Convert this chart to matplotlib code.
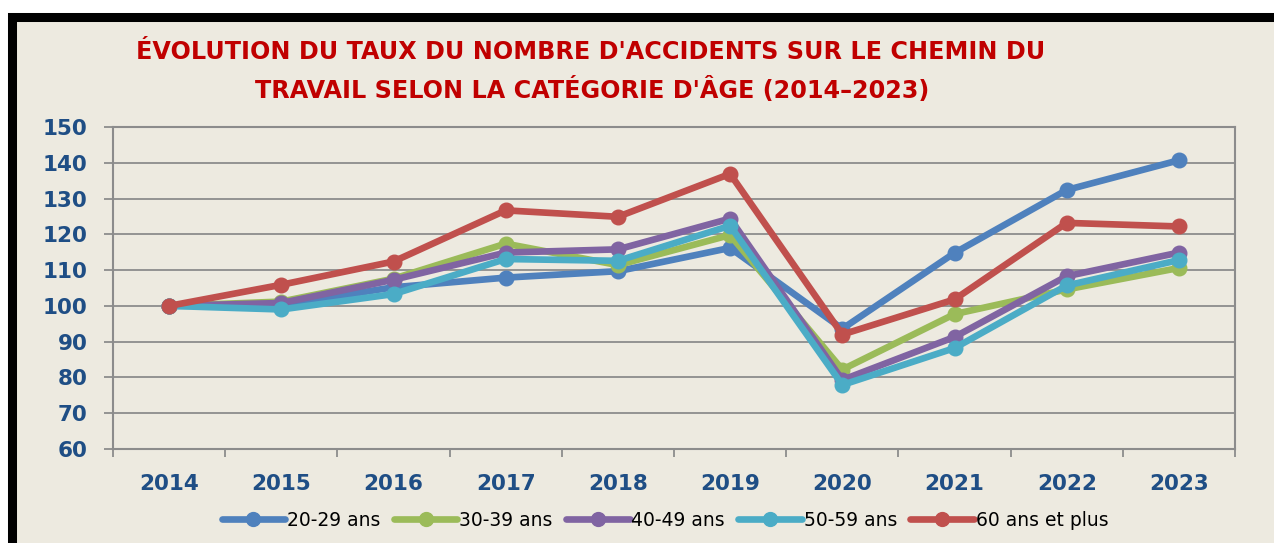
import numpy as np
import matplotlib
matplotlib.use('Agg')
import matplotlib.pyplot as plt
from matplotlib.patches import Rectangle

years = ['2014', '2015', '2016', '2017', '2018', '2019', '2020', '2021', '2022', '2023']
age_20_29 = [100, 100.2, 105.2, 107.9, 109.7, 116.2, 93.6, 114.8, 132.4, 140.7]
age_30_39 = [100, 101.2, 107.6, 117.4, 111.4, 119.8, 82.2, 97.7, 104.6, 110.6]
age_40_49 = [100, 100.8, 107.3, 114.9, 115.8, 124.4, 79.3, 91.3, 108.3, 114.9]
age_50_59 = [100, 99.0, 103.3, 113.1, 112.6, 122.4, 77.9, 88.2, 105.7, 112.8]
age_60_plus = [100, 105.9, 112.4, 126.7, 124.9, 136.9, 92.0, 101.8, 123.2, 122.2]

series = [
    ('20-29 ans', age_20_29, '#4F81BD'),
    ('30-39 ans', age_30_39, '#9BBB59'),
    ('40-49 ans', age_40_49, '#8064A2'),
    ('50-59 ans', age_50_59, '#4BACC6'),
    ('60 ans et plus', age_60_plus, '#C0504D'),
]

bg = '#EDEAE0'
tick_blue = '#1F4E85'
W, H = 1274, 543

fig = plt.figure(figsize=(W / 100, H / 100), dpi=100, facecolor='white')

# black frame around the chart (only left and top visible)
frame = Rectangle((11.5 / W, -0.2), 1.3, 1.2 - 16.5 / H,
                  transform=fig.transFigure, facecolor=bg, edgecolor='black',
                  linewidth=6.5, zorder=-10)
fig.patches.append(frame)

ax = fig.add_axes([113 / W, 94 / H, (1235 - 113) / W, (449 - 127) / H], zorder=1)
ax.set_facecolor(bg)

x = np.arange(len(years))
for label, vals, color in series:
    ax.plot(x, vals, color=color, linewidth=4.8, marker='o', markersize=10.5,
            label=label, solid_capstyle='round', solid_joinstyle='round')

ax.set_xlim(-0.5, len(years) - 0.5)
ax.set_ylim(60, 150)
ax.set_yticks(np.arange(60, 151, 10))
ax.grid(axis='y', color='#8C8C8C', linewidth=1.3)
ax.set_axisbelow(True)

ax.set_xticks(np.arange(-0.5, len(years), 1))
ax.set_xticklabels([])
ax.set_xticks(x, minor=True)
ax.set_xticklabels(years, minor=True)
ax.tick_params(axis='x', which='major', length=6, color='#8C8C8C', width=1.3)
ax.tick_params(axis='x', which='minor', length=0, pad=18, labelsize=15.5,
               labelcolor=tick_blue)
ax.tick_params(axis='y', length=6.5, color='#8C8C8C', width=1.3, pad=12,
               labelsize=15.5, labelcolor=tick_blue)
for lab in ax.get_xticklabels(minor=True) + ax.get_yticklabels():
    lab.set_fontweight('bold')

for side in ['left', 'right', 'top', 'bottom']:
    ax.spines[side].set_color('#8C8C8C')
    ax.spines[side].set_linewidth(1.5)

fig.text(591 / W, 1 - 52 / H, "ÉVOLUTION DU TAUX DU NOMBRE D'ACCIDENTS SUR LE CHEMIN DU",
         ha='center', va='center', color='#C00000', fontsize=17.2, fontweight='bold')
fig.text(592 / W, 1 - 90 / H, "TRAVAIL SELON LA CATÉGORIE D'ÂGE (2014\u20132023)",
         ha='center', va='center', color='#C00000', fontsize=17.2, fontweight='bold')

fig.legend(loc='center', bbox_to_anchor=(665 / W, 1 - 520 / H), ncol=5,
           frameon=False, fontsize=13.5, handlelength=3.4, handletextpad=0.1,
           columnspacing=0.7, borderaxespad=0, markerscale=0.95)

fig.savefig('out.png', dpi=100, facecolor='white')
